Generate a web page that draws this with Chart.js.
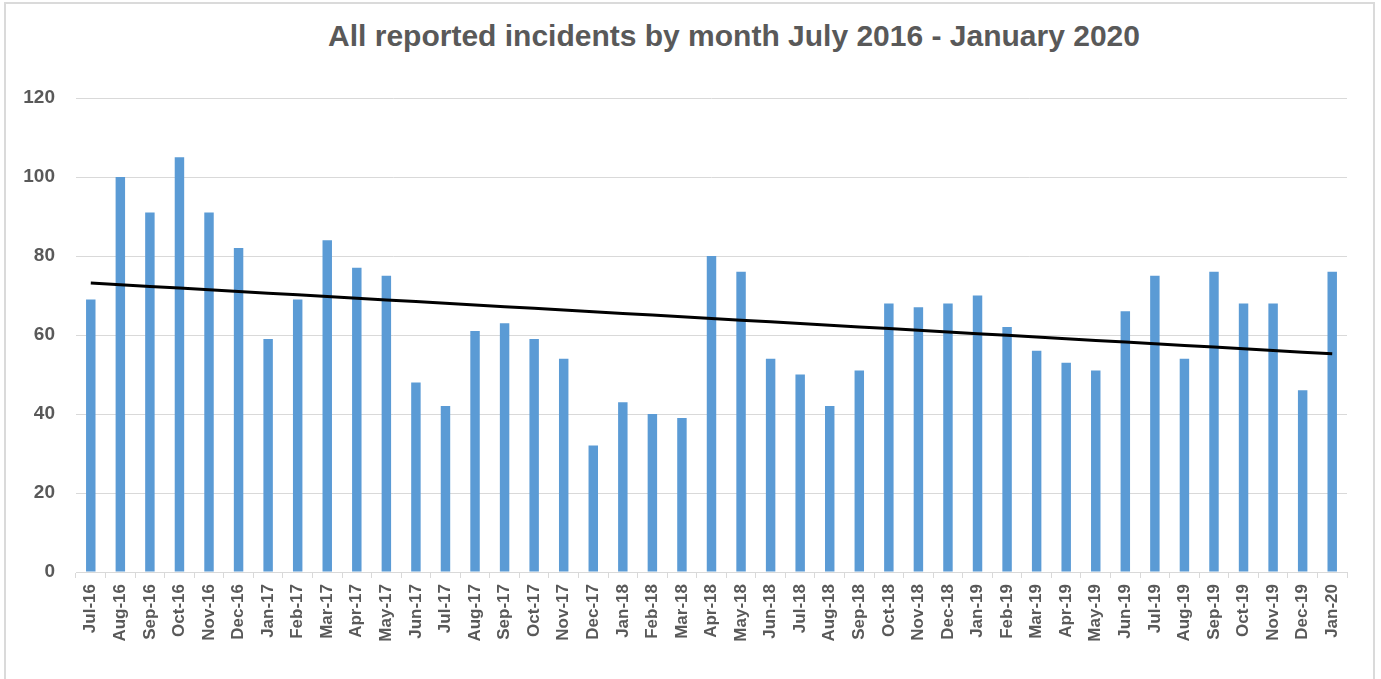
<!DOCTYPE html>
<html>
<head>
<meta charset="utf-8">
<script src="https://cdn.jsdelivr.net/npm/chart.js@4/dist/chart.umd.min.js"></script>
<style>
  body { margin: 0; background: #fff; }
  #wrap { position: relative; width: 1381px; height: 679px; overflow: hidden; }
  #frame { position: absolute; left: 4px; top: 2px; width: 1371px; height: 720px; border: 2px solid #dadada; box-sizing: border-box; }
  #title {
    position: absolute; left: 0; top: 19px; width: 1468px; text-align: center;
    font: bold 30px "Liberation Sans", Arial, sans-serif; color: #595959; line-height: 34px;
  }
  canvas { position: absolute; left: 0; top: 0; }
</style>
</head>
<body>
<div id="wrap">
  <div id="frame"></div>
  <div id="title">All reported incidents by month July 2016 - January 2020</div>
  <canvas id="chart" width="1381" height="679"></canvas>
</div>
<script>
// Monthly labels, Jul 2016 to Jan 2020
const months = [
  'Jul-16', 'Aug-16', 'Sep-16', 'Oct-16', 'Nov-16', 'Dec-16',
  'Jan-17', 'Feb-17', 'Mar-17', 'Apr-17', 'May-17', 'Jun-17',
  'Jul-17', 'Aug-17', 'Sep-17', 'Oct-17', 'Nov-17', 'Dec-17',
  'Jan-18', 'Feb-18', 'Mar-18', 'Apr-18', 'May-18', 'Jun-18',
  'Jul-18', 'Aug-18', 'Sep-18', 'Oct-18', 'Nov-18', 'Dec-18',
  'Jan-19', 'Feb-19', 'Mar-19', 'Apr-19', 'May-19', 'Jun-19',
  'Jul-19', 'Aug-19', 'Sep-19', 'Oct-19', 'Nov-19', 'Dec-19',
  'Jan-20'
];

// Incidents reported each month
const incidents = [
  69, 100, 91, 105, 91, 82,
  59, 69, 84, 77, 75, 48,
  42, 61, 63, 59, 54, 32,
  43, 40, 39, 80, 76, 54,
  50, 42, 51, 68, 67, 68,
  70, 62, 56, 53, 51, 66,
  75, 54, 76, 68, 68, 46,
  76
];

const yTicks = [0, 20, 40, 60, 80, 100, 120];

// Linear trendline (least squares) like Excel adds
function trendline(values) {
    const n = values.length;
    let sx = 0, sy = 0, sxy = 0, sxx = 0;
    values.forEach((v, i) => {
        sx += i; sy += v; sxy += i * v; sxx += i * i;
    });
    const slope = (n * sxy - sx * sy) / (n * sxx - sx * sx);
    const intercept = (sy - slope * sx) / n;
    return values.map((v, i) => intercept + slope * i);
}

const grey = '#595959';
const gridGrey = '#d9d9d9';

new Chart(document.getElementById('chart'), {
    data: {
        labels: months,
        datasets: [
            {
                type: 'line',
                data: trendline(incidents),
                borderColor: '#000000',
                borderWidth: 3,
                pointRadius: 0,
                fill: false,
                order: 0
            },
            {
                type: 'bar',
                data: incidents,
                backgroundColor: '#5b9bd5',
                categoryPercentage: 1,
                barPercentage: 0.32,
                order: 1
            }
        ]
    },
    options: {
        responsive: false,
        animation: false,
        layout: { padding: { left: 0, right: 34, top: 98, bottom: 0 } },
        plugins: {
            legend: { display: false },
            tooltip: { enabled: false },
            title: { display: false }
        },
        scales: {
            x: {
                offset: true,
                grid: {
                    offset: true,
                    drawOnChartArea: false,
                    drawTicks: true,
                    tickLength: 6,
                    color: gridGrey
                },
                border: { display: true, color: gridGrey, width: 1 },
                ticks: {
                    autoSkip: false,
                    minRotation: 90,
                    maxRotation: 90,
                    padding: 6,
                    color: grey,
                    font: { family: '"Liberation Sans", Arial, sans-serif', size: 17, weight: 'bold' }
                },
                afterFit: function(scale) { scale.height = 107; }
            },
            y: {
                min: 0,
                max: 120,
                afterBuildTicks: function(scale) {
                    scale.ticks = yTicks.map(v => ({ value: v }));
                },
                grid: { color: gridGrey, drawTicks: false },
                border: { display: false },
                ticks: {
                    padding: 21,
                    color: grey,
                    font: { family: '"Liberation Sans", Arial, sans-serif', size: 19, weight: 'bold' }
                },
                afterFit: function(scale) { scale.width = 76; }
            }
        }
    }
});
</script>
</body>
</html>
